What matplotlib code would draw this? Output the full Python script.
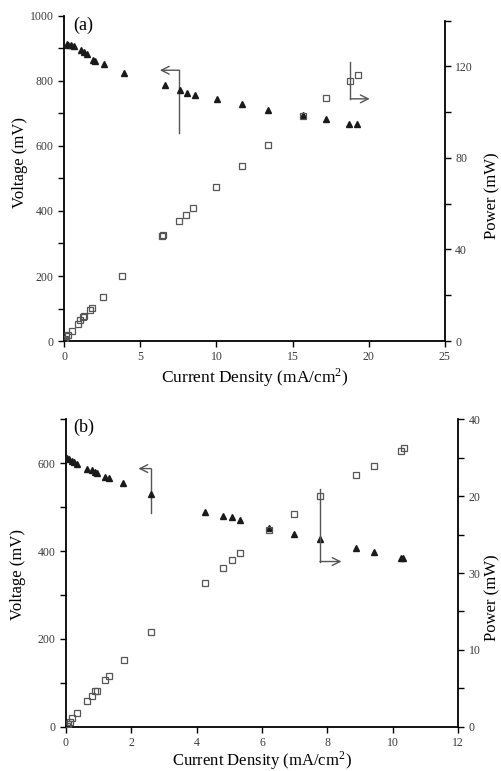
import matplotlib
matplotlib.use("Agg")
import matplotlib.pyplot as plt
import numpy as np

plt.rcParams["font.family"] = ["Liberation Serif", "DejaVu Serif"]
plt.rcParams["mathtext.fontset"] = "stix"

# panel (a): voltage (triangles) and power (open squares)
a_cur_v = [0.15, 0.26, 0.42, 0.63, 1.09, 1.29, 1.47, 1.86, 2.01, 2.63, 3.94,
           6.59, 7.61, 8.07, 8.56, 10.04, 11.71, 13.41, 15.68, 17.17, 18.74, 19.21]
a_volt = [913, 912, 910, 907, 894, 889, 884, 866, 862, 852, 823,
          787, 772, 764, 758, 744, 730, 711, 694, 683, 667, 667]
a_cur_p = [0.0, 0.07, 0.1, 0.26, 0.48, 0.92, 1.03, 1.22, 1.29, 1.68, 1.84, 2.52,
           3.81, 6.45, 6.5, 7.55, 8.01, 8.49, 10.0, 11.71, 13.41, 15.68, 17.17, 18.8, 19.3]
a_power = [0.3, 1.0, 2.0, 2.8, 4.2, 7.4, 9.0, 10.4, 10.8, 13.5, 14.6, 19.2,
           28.2, 46.0, 46.4, 52.3, 54.9, 58.1, 67.1, 76.6, 85.7, 98.5, 106.1, 113.7, 116.3]

# panel (b)
b_cur_v = [0.03, 0.10, 0.18, 0.25, 0.34, 0.66, 0.79, 0.88, 0.95, 1.20, 1.31,
           1.76, 2.61, 4.26, 4.80, 5.07, 5.33, 6.20, 6.98, 7.77, 8.87, 9.43, 10.24, 10.32]
b_volt = [611, 609, 606, 603, 598, 587, 584, 580, 577, 569, 567,
          555, 531, 490, 481, 477, 471, 452, 440, 427, 407, 398, 385, 385]
b_cur_p = [0.03, 0.08, 0.13, 0.18, 0.34, 0.66, 0.79, 0.90, 0.95, 1.20, 1.31,
           1.77, 2.61, 4.26, 4.80, 5.07, 5.33, 6.20, 6.98, 7.77, 8.87, 9.43, 10.26, 10.34]
b_power = [0.1, 0.35, 0.65, 1.1, 1.8, 3.4, 4.05, 4.6, 4.7, 6.1, 6.6,
           8.7, 12.3, 18.7, 20.7, 21.7, 22.6, 25.6, 27.7, 30.0, 32.7, 34.0, 35.9, 36.3]
b_power_ticks = [0, 10, 20, 30, 40]
b_power_labels = ["0", "10", "30", "20", "40"]

TICK = "#3a3a3a"
SQ = "#555555"
ARROW = "#555555"
W, H = 502, 771


def style_axes(ax, ax2):
    for a in (ax, ax2):
        a.spines["top"].set_visible(False)
        for s in ("left", "right", "bottom"):
            a.spines[s].set_linewidth(1.3)
        a.tick_params(which="both", direction="out", length=4, width=1.0,
                      labelsize=8.5, labelcolor=TICK)
    ax.spines["right"].set_visible(False)
    ax2.spines["left"].set_visible(False)
    ax2.spines["bottom"].set_visible(False)


def bent_arrow(ax, x, y_top, y_bot, x_head):
    ax.plot([x, x], [y_bot, y_top], color=ARROW, lw=1.0)
    ax.annotate("", xy=(x_head, y_top), xytext=(x, y_top),
                arrowprops=dict(arrowstyle="->", color=ARROW, lw=1.0,
                                mutation_scale=14, shrinkA=0, shrinkB=0))


def ylab(px, py, text):
    # side labels placed in pixel positions of the original figure
    fig.text(px / W, 1 - py / H, text, rotation=90, ha="center", va="center",
             fontsize=12)


fig = plt.figure(figsize=(5.02, 7.71), dpi=100)

# ---- (a)
ax = fig.add_axes([0.128, 0.5577, 0.758, 0.4216])
ax2 = ax.twinx()
ax.plot(a_cur_v, a_volt, "^", color="#1a1a1a", ms=4.5, zorder=3)
ax2.plot(a_cur_p, a_power, "s", mfc="none", mec=SQ, mew=0.9, ms=4)
ax.set_xlim(0, 25)
ax.set_ylim(0, 1000)
ax2.set_ylim(0, 142)
ax2.spines["right"].set_bounds(0, 140)
ax.set_xticks([0, 5, 10, 15, 20, 25])
ax.set_yticks(np.arange(0, 1001, 100))
ax.set_yticklabels([str(v) if v % 200 == 0 else "" for v in range(0, 1001, 100)])
ax2.set_yticks(np.arange(0, 141, 20))
ax2.set_yticklabels([str(v) if v % 40 == 0 else "" for v in range(0, 141, 20)])
style_axes(ax, ax2)
ax.set_xlabel(r"Current Density (mA/cm$^{\mathregular{2}}$)", fontsize=12.5, labelpad=2)
ax.text(0.023, 0.972, "(a)", transform=ax.transAxes, fontsize=13, va="center")
bent_arrow(ax, 7.53, 833, 641, 6.28)
bent_arrow(ax, 18.8, 745, 859, 20.07)
ylab(20, 163, "Voltage (mV)")
ylab(492, 196, "Power (mW)")

# ---- (b)
bx = fig.add_axes([0.131, 0.0575, 0.782, 0.3985])
bx2 = bx.twinx()
bx.plot(b_cur_v, b_volt, "^", color="#1a1a1a", ms=4.5, zorder=3)
bx2.plot(b_cur_p, b_power, "s", mfc="none", mec=SQ, mew=0.9, ms=4)
bx.set_xlim(0, 12)
bx.set_ylim(0, 700)
bx2.set_ylim(0, 40)
bx.set_xticks([0, 2, 4, 6, 8, 10, 12])
bx.set_yticks(np.arange(0, 701, 100))
bx.set_yticklabels([str(v) if v % 200 == 0 else "" for v in range(0, 701, 100)])
bx2.set_yticks(np.arange(0, 41, 5))
bx2.set_yticklabels([b_power_labels[b_power_ticks.index(v)] if v in b_power_ticks else ""
                     for v in range(0, 41, 5)])
style_axes(bx, bx2)
bx.set_xlabel(r"Current Density (mA/cm$^{\mathregular{2}}$)", fontsize=12, labelpad=0)
bx.text(0.019, 0.974, "(b)", transform=bx.transAxes, fontsize=13, va="center")
bent_arrow(bx, 2.61, 588, 487, 2.22)
bent_arrow(bx2, 7.77, 21.5, 30.9, 8.43)
ylab(18, 575, "Voltage (mV)")
ylab(492, 598, "Power (mW)")

fig.savefig("out.png", dpi=100)
